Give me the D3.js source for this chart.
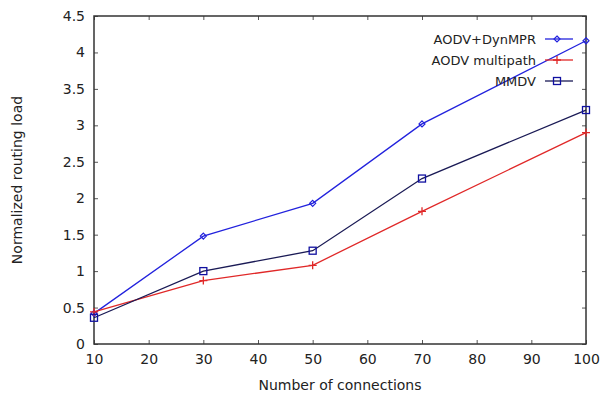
<!DOCTYPE html>
<html>
<head>
<meta charset="utf-8">
<script src="https://cdn.jsdelivr.net/npm/d3@7"></script>
<style>
  body { margin: 0; background: #fff; }
  svg { display: block; }
  text { font-family: "DejaVu Sans", sans-serif; fill: #222; }
</style>
</head>
<body>
<svg id="chart" width="602" height="399"></svg>
<script>
// data
var connections = [10, 30, 50, 70, 100];
var dynMPR    = [0.42, 1.48, 1.93, 3.02, 4.16];
var multipath = [0.44, 0.87, 1.08, 1.82, 2.90];
var mmdv      = [0.36, 1.00, 1.28, 2.27, 3.21];
var xTicks = [10, 20, 30, 40, 50, 60, 70, 80, 90, 100];
var yTicks = [0, 0.5, 1, 1.5, 2, 2.5, 3, 3.5, 4, 4.5];
var seriesNames = ['AODV+DynMPR', 'AODV multipath', 'MMDV'];

var svg = d3.select('#chart');
var W = 602, H = 399;
var m = {left: 94, right: 16, top: 16, bottom: 55};
var pw = W - m.left - m.right, ph = H - m.top - m.bottom;

var x = d3.scaleLinear().domain([10, 100]).range([m.left, m.left + pw]);
var y = d3.scaleLinear().domain([0, 4.5]).range([m.top + ph, m.top]);

svg.append('rect').attr('width', W).attr('height', H).attr('fill', '#fff');

var fmt = function(d) { return String(d); };

// axes, matlab style: ticks inside on all four sides
var axisColor = '#333';
function styleAxis(g) {
  g.select('.domain').remove();
  g.selectAll('.tick line').attr('stroke', '#555');
  g.selectAll('.tick text').style('font-size', '14px').attr('fill', '#222');
}
svg.append('g').attr('transform', 'translate(0,' + (m.top + ph) + ')')
  .call(d3.axisBottom(x).tickValues(xTicks).tickFormat(fmt).tickSizeInner(-4).tickPadding(10))
  .call(styleAxis);
svg.append('g').attr('transform', 'translate(0,' + m.top + ')')
  .call(d3.axisTop(x).tickValues(xTicks).tickFormat('').tickSizeInner(-4))
  .call(styleAxis);
svg.append('g').attr('transform', 'translate(' + m.left + ',0)')
  .call(d3.axisLeft(y).tickValues(yTicks).tickFormat(fmt).tickSizeInner(-4).tickPadding(9))
  .call(styleAxis);
svg.append('g').attr('transform', 'translate(' + (m.left + pw) + ',0)')
  .call(d3.axisRight(y).tickValues(yTicks).tickFormat('').tickSizeInner(-4))
  .call(styleAxis);

svg.append('rect')
  .attr('x', m.left).attr('y', m.top).attr('width', pw).attr('height', ph)
  .attr('fill', 'none').attr('stroke', axisColor).attr('stroke-width', 1.5);

// axis titles
svg.append('text')
  .attr('x', m.left + pw / 2).attr('y', 390)
  .attr('text-anchor', 'middle').style('font-size', '14px')
  .text('Number of connections');
svg.append('text')
  .attr('transform', 'translate(22,' + (m.top + ph / 2) + ') rotate(-90)')
  .attr('text-anchor', 'middle').style('font-size', '14px')
  .text('Normalized routing load');

// markers
function marker(g, kind, color) {
  if (kind === 'diamond') {
    g.append('path').attr('d', 'M0,-3L3,0L0,3L-3,0Z')
      .attr('fill', 'none').attr('stroke', color).attr('stroke-width', 1.2);
  } else if (kind === 'plus') {
    g.append('path').attr('d', 'M-4,0H4M0,-4V4')
      .attr('stroke', color).attr('stroke-width', 1.3);
  } else {
    g.append('rect').attr('x', -3.5).attr('y', -3.5).attr('width', 7).attr('height', 7)
      .attr('fill', 'none').attr('stroke', color).attr('stroke-width', 1.3);
  }
}

var series = [
  {name: seriesNames[0], vals: dynMPR,    line: '#2222dd', mark: '#2222dd', kind: 'diamond', text: '#2222cc'},
  {name: seriesNames[1], vals: multipath, line: '#e02828', mark: '#e02828', kind: 'plus',    text: '#e02828'},
  {name: seriesNames[2], vals: mmdv,      line: '#1a1a55', mark: '#1010a0', kind: 'square',  text: '#1a1a66'}
];

var line = d3.line().x(function(d) { return x(d[0]); }).y(function(d) { return y(d[1]); });

series.forEach(function(s) {
  var pts = connections.map(function(c, i) { return [c, s.vals[i]]; });
  svg.append('path').datum(pts).attr('d', line)
    .attr('fill', 'none').attr('stroke', s.line).attr('stroke-width', 1.3);
  pts.forEach(function(p) {
    var g = svg.append('g').attr('transform', 'translate(' + x(p[0]) + ',' + y(p[1]) + ')');
    marker(g, s.kind, s.mark);
  });
});

// legend
var legY = [39, 60, 81];
series.forEach(function(s, i) {
  var ly = legY[i];
  svg.append('text').attr('x', 536).attr('y', ly).attr('dy', '0.35em')
    .attr('text-anchor', 'end').style('font-size', '13px').attr('fill', s.text)
    .text(s.name);
  svg.append('line').attr('x1', 545).attr('x2', 573).attr('y1', ly).attr('y2', ly)
    .attr('stroke', s.line).attr('stroke-width', 1.3);
  var g = svg.append('g').attr('transform', 'translate(557,' + ly + ')');
  marker(g, s.kind, s.mark);
});
</script>
</body>
</html>
